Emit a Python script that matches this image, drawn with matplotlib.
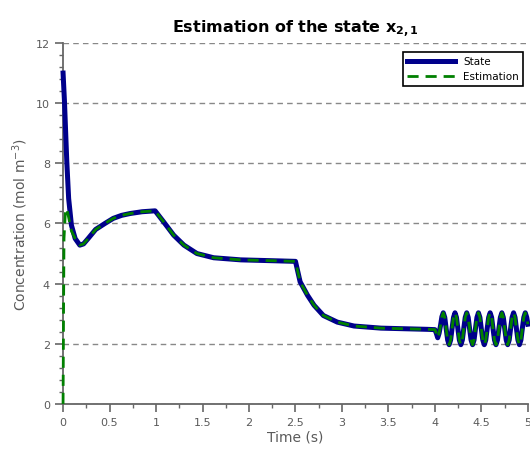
import numpy as np
from matplotlib import pyplot as plt
from matplotlib.ticker import MultipleLocator

# state x_{2,1}
t_state = [0, 0.015, 0.04, 0.06, 0.09, 0.13, 0.18, 0.22, 0.27, 0.35, 0.45,
           0.54, 0.63, 0.72, 0.85, 0.99, 1.08, 1.19, 1.30, 1.44, 1.62, 1.91,
           2.27, 2.5, 2.55, 2.63, 2.70, 2.80, 2.95, 3.13, 3.42, 3.92, 4.0]
x_state = [11.0, 10.06, 8.06, 6.83, 5.94, 5.5, 5.28, 5.32, 5.5, 5.8, 6.0,
           6.17, 6.27, 6.33, 6.39, 6.42, 6.06, 5.61, 5.28, 5.0, 4.86, 4.79,
           4.76, 4.74, 4.06, 3.61, 3.28, 2.94, 2.72, 2.59, 2.52, 2.48, 2.47]

# oscillating part after t = 4 s
t_osc = [4.015, 4.03, 4.045, 4.06, 4.075,
         4.09, 4.106, 4.121, 4.137, 4.153, 4.169, 4.184, 4.200,
         4.216, 4.232, 4.247, 4.263, 4.279, 4.295, 4.310, 4.326,
         4.342, 4.358, 4.373, 4.389, 4.405, 4.421, 4.436, 4.452,
         4.468, 4.484, 4.499, 4.515, 4.531, 4.547, 4.562, 4.578,
         4.594, 4.610, 4.625, 4.641, 4.657, 4.673, 4.688, 4.704,
         4.720, 4.736, 4.751, 4.767, 4.783, 4.799, 4.814, 4.830,
         4.846, 4.862, 4.877, 4.893, 4.909, 4.925, 4.940, 4.956,
         4.972, 4.988, 5.0]
x_osc = [2.35, 2.2, 2.35, 2.6, 2.9,
         3.03, 2.875, 2.5, 2.125, 1.97, 2.125, 2.5, 2.875,
         3.03, 2.875, 2.5, 2.125, 1.97, 2.125, 2.5, 2.875,
         3.03, 2.875, 2.5, 2.125, 1.97, 2.125, 2.5, 2.875,
         3.03, 2.875, 2.5, 2.125, 1.97, 2.125, 2.5, 2.875,
         3.03, 2.875, 2.5, 2.125, 1.97, 2.125, 2.5, 2.875,
         3.03, 2.875, 2.5, 2.125, 1.97, 2.125, 2.5, 2.875,
         3.03, 2.875, 2.5, 2.125, 1.97, 2.125, 2.5, 2.875,
         3.03, 2.875, 2.65]

t_state = t_state + t_osc
x_state = x_state + x_osc

# estimation starts at 0 and catches the state after ~0.13 s
t_est_head = [0, 0.005, 0.01, 0.025, 0.04, 0.06, 0.09]
x_est_head = [0, 3.0, 5.5, 6.4, 6.5, 6.2, 5.75]
t_est = t_est_head + t_state[5:]
x_est = x_est_head + x_state[5:]

grey = '#5a5a5a'

fig = plt.figure(figsize=(5.3, 4.56), dpi=100)
ax = fig.add_axes([0.119, 0.112, 0.877, 0.7915])

ax.plot(t_state, x_state, color='#00008b', lw=3.6, label='State',
        solid_joinstyle='round', clip_on=False, zorder=3)
ax.plot(t_est, x_est, color='#008000', lw=2.0, ls=(0, (4, 2.5)),
        label='Estimation', clip_on=False, zorder=4)

ax.set_xlim(0, 5)
ax.set_ylim(0, 12)
ax.xaxis.set_minor_locator(MultipleLocator(0.25))
ax.yaxis.set_major_locator(MultipleLocator(2))
ax.yaxis.set_minor_locator(MultipleLocator(0.4))
ax.set_xticks(np.arange(0, 5.01, 0.5))
ax.set_xticklabels(['0', '0.5', '1', '1.5', '2', '2.5', '3', '3.5', '4', '4.5', '5'])

ax.yaxis.grid(True, which='major', ls=(0, (4, 3)), color='#888888', lw=1)
ax.set_axisbelow(True)

for s in ['top', 'right']:
    ax.spines[s].set_visible(False)
for s in ['left', 'bottom']:
    ax.spines[s].set_color('#666666')
    ax.spines[s].set_linewidth(1.3)

ax.tick_params(which='major', direction='out', length=6, width=1.2,
               color='#666666', labelcolor=grey, labelsize=8)
ax.tick_params(which='minor', direction='out', length=3, width=1.0,
               color='#666666')

ax.set_xlabel('Time (s)', color=grey, fontsize=10, labelpad=2)
ax.set_ylabel('Concentration (mol m$^{-3}$)', color=grey, fontsize=10)
ax.set_title('Estimation of the state x$_{\\mathbf{2,1}}$', fontweight='bold',
             fontsize=11.5, pad=8)

leg = ax.legend(loc='upper right', bbox_to_anchor=(0.99, 0.975),
                borderaxespad=0, fancybox=False, fontsize=7.5,
                handlelength=4.6, framealpha=1)
leg.get_frame().set_edgecolor('black')
leg.get_frame().set_linewidth(1.2)

plt.savefig('out.png')
